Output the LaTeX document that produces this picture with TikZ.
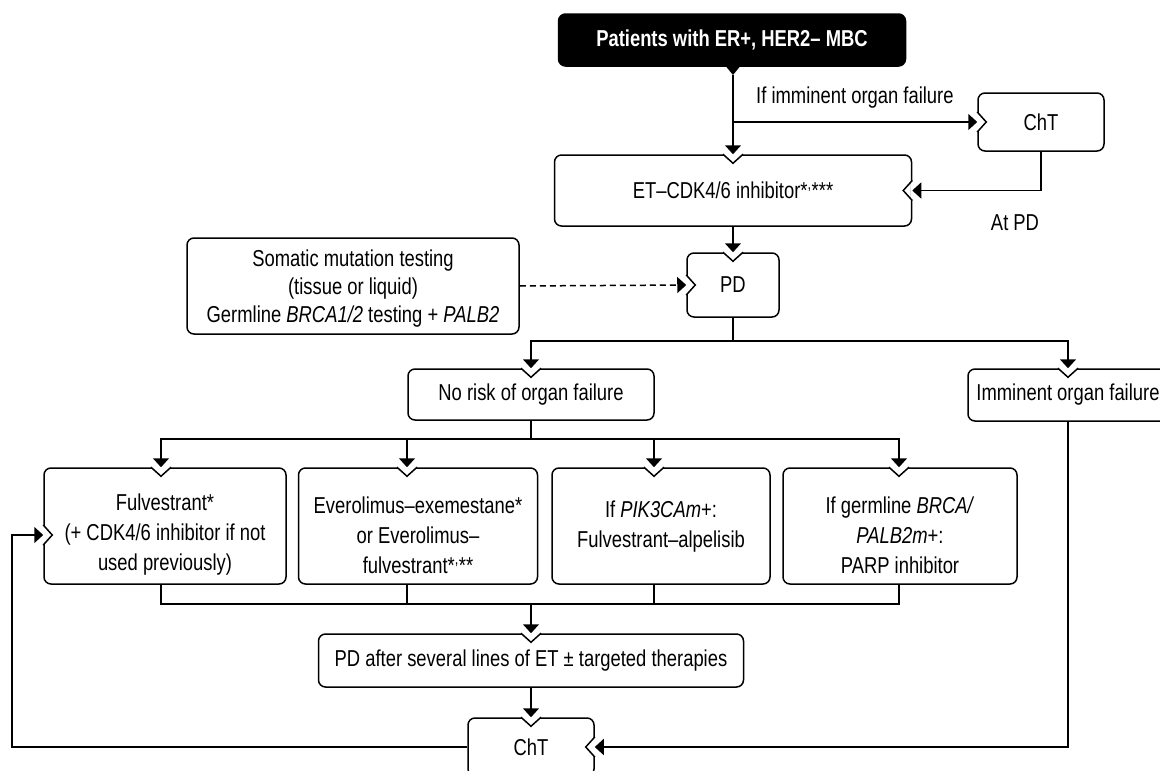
\documentclass[tikz,border=0pt]{standalone}
\usepackage{fontspec}
\setmainfont{Liberation Sans}[FakeStretch=0.80]
\usetikzlibrary{arrows.meta}
\newcommand\diagfont{\fontsize{23}{28}\selectfont}
\newcommand\widefont{\fontsize{23}{30}\selectfont}
% V-shaped notch cut into a box edge where an arrow comes in
\newcommand\notchat[2]{%
  \begin{scope}[shift={#1},rotate=#2]
    \fill[white] (-9.4,-1.4) rectangle (9.4,1.4);
    \draw[ln,line join=miter] (-10,0) -- (0,9) -- (10,0);
  \end{scope}}
\begin{document}
\begin{tikzpicture}[x=1pt,y=-1pt,
  ln/.style={line width=1.5pt},
  arr/.style={ln,-{Triangle[length=9pt,width=16pt]}},
  dsh/.style={arr,dash pattern=on 6pt off 4pt},
  box/.style={draw,ln,rounded corners=7pt,fill=white,align=center,
    inner sep=0pt,font=\diagfont},
  lbl/.style={font=\diagfont,inner sep=0pt,align=center},
  tall/.style={lbl,font=\widefont}]
\useasboundingbox (0,0) rectangle (1160,771);
\clip (0,0) rectangle (1160,771);

% start box with its pointer
\node[box,draw=black,fill=black,text=white,font=\diagfont\bfseries,
  minimum width=347pt,minimum height=52pt] (start) at (732,40)
  {Patients with ER+, HER2– MBC};
\fill (724,64) -- (742,64) -- (733,75) -- cycle;
\coordinate (starttip) at (733,75);

% boxes
\node[box,minimum width=126pt,minimum height=58pt] (cht1) at (1041,122) {ChT};
\node[box,minimum width=357pt,minimum height=71pt] (et) at (733,190.5)
  {ET–CDK4/6 inhibitor*\textsuperscript{,}***};
\node[box,minimum width=92pt,minimum height=64pt] (pd) at (733,285) {PD};
\node[box,minimum width=332pt,minimum height=96pt] (som) at (353,286) {};
\node[lbl] (som-t) at ([yshift=-3pt]som.center)
  {Somatic mutation testing\\(tissue or liquid)\\Germline \textit{BRCA1/2} testing + \textit{PALB2}};
\node[box,minimum width=246pt,minimum height=51pt] (norisk) at (531,394.5)
  {No risk of organ failure};
\node[box,minimum width=200pt,minimum height=52pt] (immi) at (1068,395)
  {Imminent organ failure};
\node[box,minimum width=242pt,minimum height=116pt] (fulv) at (165,526) {};
\node[tall] (fulv-t) at ([yshift=-9pt]fulv.center)
  {Fulvestrant*\\(+ CDK4/6 inhibitor if not\\used previously)};
\node[box,minimum width=239pt,minimum height=116pt] (ever) at (418,526) {};
\node[tall] (ever-t) at ([yshift=-9pt]ever.center)
  {Everolimus–exemestane*\\or Everolimus–\\fulvestrant*\textsuperscript{,}**};
\node[box,minimum width=218pt,minimum height=116pt] (pik) at (661,526) {};
\node[tall] (pik-t) at ([yshift=-1pt]pik.center)
  {If \textit{PIK3CAm}+:\\Fulvestrant–alpelisib};
\node[box,minimum width=234pt,minimum height=116pt] (parp) at (900,526) {};
\node[tall] (parp-t) at ([yshift=-9pt]parp.center)
  {If germline \textit{BRCA/}\\\textit{PALB2m}+:\\PARP inhibitor};
\node[box,minimum width=425pt,minimum height=53pt] (pdafter) at (531,660.5)
  {PD after several lines of ET ± targeted therapies};
\node[box,minimum width=126pt,minimum height=58pt] (cht2) at (531,747) {ChT};

% labels
\node[lbl,anchor=west] (lblimm) at (756,98) {If imminent organ failure};
\node[lbl] (lblpd) at (1015,223) {At PD};

% notches
\notchat{(starttip |- et.north)}{0}
\notchat{(et.east)}{-90}
\notchat{(cht1.west)}{90}
\notchat{(pd.north)}{0}
\notchat{(pd.west)}{90}
\notchat{(norisk.north)}{0}
\notchat{(immi.north)}{0}
\notchat{(fulv.north -| 161,0)}{0}
\notchat{(fulv.west |- 0,535)}{90}
\notchat{(ever.north -| 407,0)}{0}
\notchat{(pik.north -| 654,0)}{0}
\notchat{(parp.north -| 899,0)}{0}
\notchat{(pdafter.north)}{0}
\notchat{(cht2.north)}{0}
\notchat{(cht2.east)}{-90}

% connectors
\draw[arr] (starttip) -- (starttip |- et.north);
\draw[arr] (starttip |- cht1.west) -- (cht1.west);
\draw[arr] (cht1.south) |- (et.east);
\draw[arr] (et.south) -- (pd.north);
\draw[dsh] (som.east) -- (pd.west);

\coordinate (s1) at (pd.south |- 0,341);
\draw[ln] (pd.south) -- (s1);
\draw[arr] (s1) -| (norisk.north);
\draw[arr] (s1) -| (immi.north);

\coordinate (s2) at (norisk.south |- 0,439);
\draw[ln] (norisk.south) -- (s2);
\draw[arr] (s2) -| (fulv.north -| 161,0);
\draw[arr] (s2) -| (ever.north -| 407,0);
\draw[arr] (s2) -| (pik.north -| 654,0);
\draw[arr] (s2) -| (parp.north -| 899,0);

\coordinate (s3) at (pdafter.north |- 0,604);
\draw[ln] (fulv.south -| 161,0) |- (s3);
\draw[ln] (ever.south -| 407,0) |- (s3);
\draw[ln] (pik.south -| 654,0) |- (s3);
\draw[ln] (parp.south -| 899,0) |- (s3);
\draw[arr] (s3) -- (pdafter.north);
\draw[arr] (pdafter.south) -- (cht2.north);

\draw[arr] (cht2.west) -| (12,600) |- (fulv.west |- 0,535);
\draw[arr] (immi.south) |- (cht2.east);
\end{tikzpicture}
\end{document}
